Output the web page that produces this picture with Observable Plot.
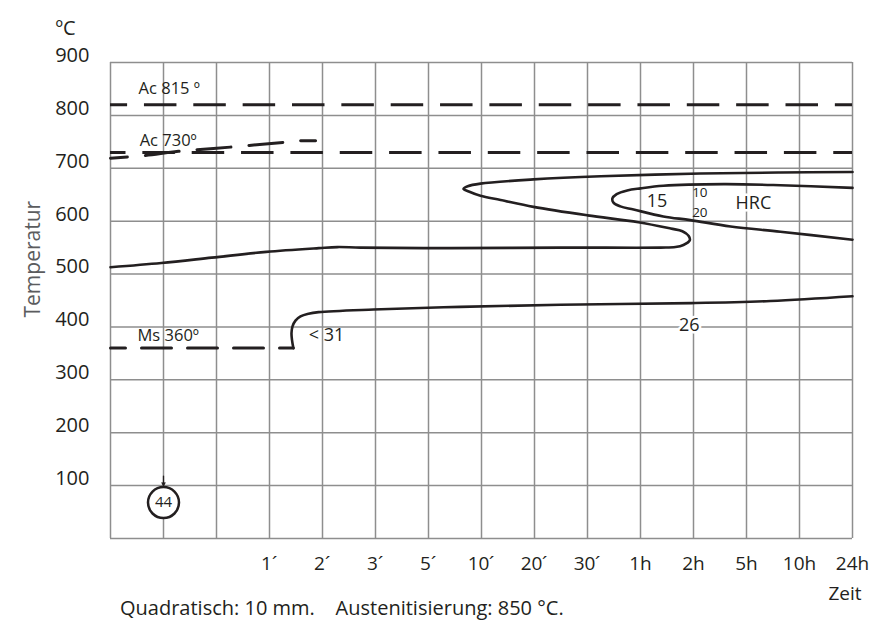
<!DOCTYPE html>
<html>
<head>
<meta charset="utf-8">
<script src="https://cdn.jsdelivr.net/npm/d3@7"></script>
<script src="https://cdn.jsdelivr.net/npm/@observablehq/plot@0.6"></script>
<style>
@font-face { font-family: "AcuteFix"; src: local("Liberation Sans"); unicode-range: U+00B4; }
body { margin: 0; background: #fff; font-family: "Open Sans", sans-serif; }
#wrap { position: relative; width: 869px; height: 623px; overflow: hidden; }
#caption { position: absolute; left: 120px; top: 596px; font-size: 20px; line-height: 24px; color: #231f20; white-space: pre; font-family: "Open Sans", sans-serif; }
</style>
</head>
<body>
<div id="wrap"><div id="chart"></div><div id="caption"></div></div>
<script>
// ---- axis data ----
const gridIdx = [0,1,2,3,4,5,6,7,8,9,10,11,12,13,14];
const timeTickIdx = [3,4,5,6,7,8,9,10,11,12,13,14];
const timeTickLabels = ["1´","2´","3´","5´","10´","20´","30´","1h","2h","5h","10h","24h"];
const gridTemps = [0,100,200,300,400,500,600,700,800,900];
const tempTicks = [100,200,300,400,500,600,700,800,900];

// ---- reference temperatures ----
const ac815Line = [820];
const ac730Line = [730];
const msIdx = [0, 3.45];
const msTemp = [360, 360];

// ---- Ac start (slanted dashed) ----
const acStartIdx = [0, 0.64, 1.28, 2.26, 3.26, 3.58, 3.87];
const acStartTemp = [719, 724, 732, 740, 749, 752, 752];

// ---- upper transformation curve ----
const upperIdx = [0, 0.96, 1.91, 2.94, 3.93, 4.28, 4.72, 6.42, 8.49, 10.38, 10.66, 10.81, 10.93, 10.91, 10.79, 10.57, 9.96, 9.0, 7.98, 7.36, 6.98, 6.76, 6.66, 6.74, 6.98, 7.98, 9.25, 11.13, 12.64, 14];
const upperTemp = [513, 521, 531, 542, 549, 551, 550, 549, 550, 550, 551, 555, 564, 572, 581, 586, 598, 611, 627, 640, 648, 656, 661, 666, 671, 679, 685, 690, 692, 693];

// ---- inner curve ----
const innerIdx = [14, 12.64, 11.57, 10.43, 10.0, 9.75, 9.55, 9.47, 9.49, 9.62, 9.87, 10.43, 10.94, 11.7, 12.64, 14];
const innerTemp = [663, 668, 670, 667, 662, 658, 651, 643, 635, 628, 622, 609, 602, 590, 580, 565];

// ---- lower (bainite) curve ----
const lowerIdx = [3.45, 3.425, 3.415, 3.434, 3.49, 3.585, 3.736, 3.925, 4.96, 6.6, 8.49, 10.96, 12.45, 14];
const lowerTemp = [360, 375, 388, 401, 412, 420, 425, 428, 433, 438, 442, 445, 449, 458];

// ---- labels ----
const refLabelText = ["Ac 815 º", "Ac 730º", "Ms 360º"];
const refLabelIdx = [0.53, 0.55, 0.51];
const refLabelTemp = [851, 753, 384];

const ltText = ["< 31"];
const ltIdx = [3.74];
const ltTemp = [385];
const hardText = ["15"];
const hardIdx = [10.31];
const hardTemp = [638];
const haloText = ["26", "HRC"];
const haloIdx = [10.92, 12.13];
const haloTemp = [403, 633];
const smallText = ["10", "20"];
const smallIdx = [11.12, 11.12];
const smallTemp = [654, 616];

const circleIdx = [1];
const circleTemp = [68];
const circleText = ["44"];
const arrowIdx = [1];
const arrowFrom = [118];
const arrowTo = [100];

const captionText = "Quadratisch: 10 mm.    Austenitisierung: 850 °C.";

// ---- helpers ----
const pts = (xs, ys) => xs.map((x, i) => ({x, y: ys[i]}));
const ink = "#231f20";
const gridColor = "#8e8e8e";

const chart = Plot.plot({
  width: 869,
  height: 623,
  marginLeft: 110,
  marginRight: 17,
  marginTop: 62,
  marginBottom: 85,
  style: {fontFamily: "'Open Sans', sans-serif", fontSize: "18px", color: ink, background: "white"},
  x: {domain: [0, 14], axis: null},
  y: {domain: [0, 900], axis: null},
  marks: [
    Plot.ruleX(gridIdx, {x: d => d, stroke: gridColor, strokeWidth: 1.5}),
    Plot.ruleY(gridTemps, {y: d => d, stroke: gridColor, strokeWidth: 1.5}),
    // tick labels
    Plot.text(tempTicks, {y: d => d, frameAnchor: "left", textAnchor: "end", lineAnchor: "middle", dx: -21, dy: -7, fontSize: 20, fill: ink}),
    Plot.text(timeTickIdx, {x: d => d, text: (d, i) => timeTickLabels[i], frameAnchor: "bottom", lineAnchor: "middle", dy: 25, fontSize: 19, fill: ink, fontFamily: "AcuteFix, 'Open Sans', sans-serif"}),
    Plot.text(["ºC"], {frameAnchor: "top-left", textAnchor: "start", lineAnchor: "middle", dx: -55, dy: -34, fontSize: 20, fill: ink}),
    Plot.text(["Temperatur"], {frameAnchor: "left", rotate: -90, lineAnchor: "middle", dx: -77, dy: 17, fontSize: 21, fill: "#5b5c5e"}),
    Plot.text(["Zeit"], {frameAnchor: "bottom-right", textAnchor: "end", lineAnchor: "middle", dx: 9, dy: 55, fontSize: 19, fill: ink}),
    // reference lines
    Plot.ruleY(ac815Line, {y: d => d, stroke: ink, strokeWidth: 3, strokeDasharray: "32.5,16.85", strokeDashoffset: 15.4}),
    Plot.ruleY(ac730Line, {y: d => d, stroke: ink, strokeWidth: 3, strokeDasharray: "32.5,16.85", strokeDashoffset: 17}),
    Plot.line(pts(msIdx, msTemp), {x: "x", y: "y", stroke: ink, strokeWidth: 3, strokeDasharray: "30,16", strokeDashoffset: 15}),
    Plot.line(pts(acStartIdx, acStartTemp), {x: "x", y: "y", curve: "catmull-rom", stroke: ink, strokeWidth: 3, strokeDasharray: "34,18", strokeDashoffset: 17}),
    // curves
    Plot.line(pts(upperIdx, upperTemp), {x: "x", y: "y", curve: "catmull-rom", stroke: ink, strokeWidth: 2.6}),
    Plot.line(pts(innerIdx, innerTemp), {x: "x", y: "y", curve: "catmull-rom", stroke: ink, strokeWidth: 2.6}),
    Plot.line(pts(lowerIdx, lowerTemp), {x: "x", y: "y", curve: "catmull-rom", stroke: ink, strokeWidth: 2.6}),
    // labels
    Plot.text(refLabelText, {x: (d, i) => refLabelIdx[i], y: (d, i) => refLabelTemp[i], text: d => d, textAnchor: "start", fontSize: 16.5, fill: ink}),
    Plot.text(ltText, {x: (d, i) => ltIdx[i], y: (d, i) => ltTemp[i], text: d => d, textAnchor: "start", fontSize: 18, fill: ink}),
    Plot.text(hardText, {x: (d, i) => hardIdx[i], y: (d, i) => hardTemp[i], text: d => d, fontSize: 18, fill: ink}),
    Plot.text(haloText, {x: (d, i) => haloIdx[i], y: (d, i) => haloTemp[i], text: d => d, fontSize: 18, fill: ink, stroke: "white", strokeWidth: 5}),
    Plot.text(smallText, {x: (d, i) => smallIdx[i], y: (d, i) => smallTemp[i], text: d => d, fontSize: 13.5, fill: ink}),
    // 44 marker
    Plot.arrow(arrowIdx, {x1: d => d, x2: d => d, y1: (d, i) => arrowFrom[i], y2: (d, i) => arrowTo[i], stroke: ink, strokeWidth: 1.3, headLength: 9, headAngle: 55}),
    Plot.dot(circleIdx, {x: d => d, y: (d, i) => circleTemp[i], r: 15.5, fill: "white", stroke: ink, strokeWidth: 2.5}),
    Plot.text(circleText, {x: (d, i) => circleIdx[i], y: (d, i) => circleTemp[i], text: d => d, fontSize: 15, fill: ink})
  ]
});
document.getElementById("chart").appendChild(chart);
document.getElementById("caption").textContent = captionText;
</script>
</body>
</html>
